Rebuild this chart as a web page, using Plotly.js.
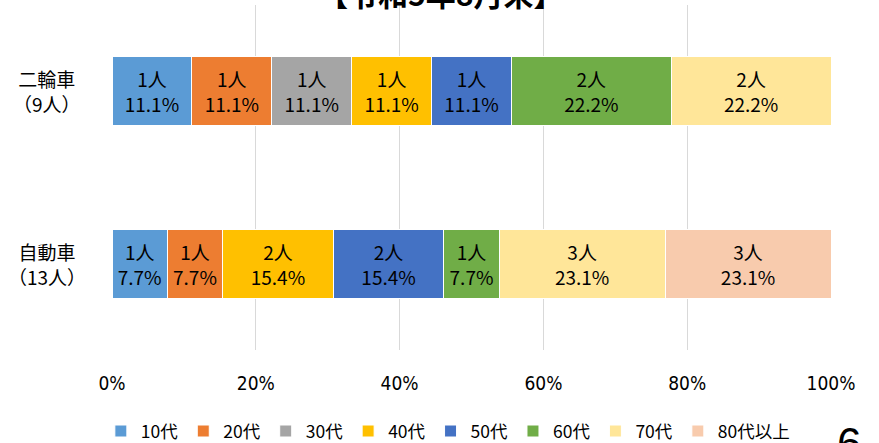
<!DOCTYPE html>
<html>
<head>
<meta charset="utf-8">
<script src="https://cdn.plot.ly/plotly-3.0.1.min.js"></script>
<style>html,body{margin:0;padding:0;background:#fff;}#chart{width:879px;height:443px;}</style>
</head>
<body>
<div id="chart"></div>
<script>
// categories (vehicle type) and their labels
const categories = ['二輪車', '自動車'];
const categoryLabels = ['二輪車<br>（9人）', '自動車<br>（13人）'];
// age groups
const ageGroups = ['10代', '20代', '30代', '40代', '50代', '60代', '70代', '80代以上'];
// counts of persons per age group
const motorcycleCounts = [1, 1, 1, 1, 1, 2, 2, 0];
const carCounts = [1, 1, 0, 2, 2, 1, 3, 3];
const colors = ['#5B9BD5', '#ED7D31', '#A5A5A5', '#FFC000', '#4472C4', '#70AD47', '#FFE699', '#F8CBAD'];
const xTickVals = [0, 20, 40, 60, 80, 100];
const xTickText = ['0%', '20%', '40%', '60%', '80%', '100%'];
const titleText = '【令和5年8月末】';
const pageNumber = '6';

const sum = a => a.reduce((s, v) => s + v, 0);
const totals = [sum(motorcycleCounts), sum(carCounts)];
const label = (n, t) => n > 0 ? `${n}人<br>${(n / t * 100).toFixed(1)}%` : '';

const traces = ageGroups.map((g, i) => {
  const vals = [motorcycleCounts[i], carCounts[i]];
  return {
    type: 'bar',
    orientation: 'h',
    name: g,
    y: categories,
    x: vals,
    text: vals.map((v, k) => label(v, totals[k])),
    textposition: 'inside',
    insidetextanchor: 'middle',
    textangle: 0,
    textfont: {family: 'Noto Sans CJK JP, sans-serif', size: 19, color: '#000'},
    hoverinfo: 'none',
    marker: {color: colors[i], line: {color: '#fff', width: 1}}
  };
});

const annotations = categories.map((c, i) => ({
  xref: 'paper', yref: 'y', x: -0.091, y: c,
  xanchor: 'center', yanchor: 'middle', align: 'center',
  text: categoryLabels[i], showarrow: false,
  font: {family: 'Noto Sans CJK JP, sans-serif', size: 19, color: '#000'}
}));
annotations.push({
  xref: 'paper', yref: 'paper', x: 0.457, y: 0.966, xanchor: 'center', yanchor: 'bottom',
  text: '<b>' + titleText + '</b>', showarrow: false,
  font: {family: 'Noto Sans CJK JP, sans-serif', size: 30, color: '#000'}
});
annotations.push({
  xref: 'paper', yref: 'paper', x: 1.025, y: -0.195, xanchor: 'center', yanchor: 'top',
  text: pageNumber, showarrow: false,
  font: {family: 'Liberation Sans, sans-serif', size: 44, color: '#000'}
});

const layout = {
  width: 879, height: 443,
  margin: {l: 112, r: 48, t: 5, b: 93, autoexpand: false},
  paper_bgcolor: '#fff', plot_bgcolor: '#fff',
  barmode: 'stack', barnorm: 'percent', bargap: 0.6,
  showlegend: true,
  uniformtext: {mode: 'show', minsize: 19},
  xaxis: {
    range: [0, 100], tickvals: xTickVals, ticktext: xTickText,
    showgrid: true, gridcolor: '#D9D9D9', gridwidth: 1, zeroline: false, showline: false,
    ticks: 'outside', ticklen: 16, tickcolor: 'rgba(0,0,0,0)',
    tickfont: {family: 'Liberation Sans Narrow, DejaVu Sans Condensed, sans-serif', size: 19, color: '#000'},
    fixedrange: true
  },
  yaxis: {
    autorange: 'reversed', showticklabels: false, showgrid: false, zeroline: false, showline: false,
    fixedrange: true
  },
  legend: {
    orientation: 'h', x: -0.0155, xanchor: 'left', y: -0.183, yanchor: 'top',
    traceorder: 'normal',
    font: {family: 'Liberation Sans Narrow, Noto Sans CJK JP, sans-serif', size: 17.5, color: '#000'}
  },
  annotations: annotations
};

Plotly.newPlot('chart', traces, layout, {displayModeBar: false, staticPlot: true});
</script>
</body>
</html>
